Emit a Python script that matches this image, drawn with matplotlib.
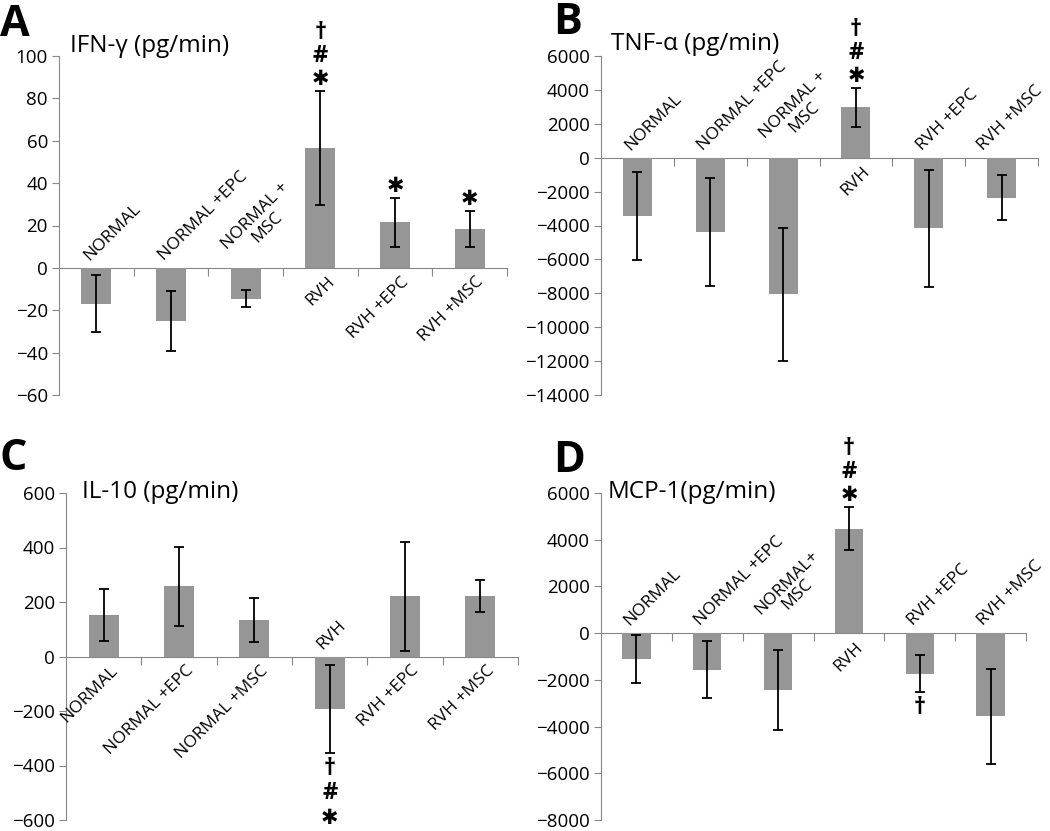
import matplotlib
matplotlib.use("Agg")
import matplotlib.pyplot as plt

plt.rcParams['font.family'] = ['Open Sans', 'DejaVu Sans']

# category labels per panel
labels_a = ['NORMAL', 'NORMAL +EPC', 'NORMAL +\nMSC', 'RVH', 'RVH +EPC', 'RVH +MSC']
labels_b = ['NORMAL', 'NORMAL +EPC', 'NORMAL +\nMSC', 'RVH', 'RVH +EPC', 'RVH +MSC']
labels_c = ['NORMAL', 'NORMAL +EPC', 'NORMAL +MSC', 'RVH', 'RVH +EPC', 'RVH +MSC']
labels_d = ['NORMAL', 'NORMAL +EPC', 'NORMAL+\nMSC', 'RVH', 'RVH +EPC', 'RVH +MSC']

# means and error (pg/min)
ifn = [-17, -25, -14.5, 56.5, 21.5, 18.5]
ifn_err = [13.5, 14, 4, 27, 11.5, 8.5]
tnf = [-3440, -4370, -8050, 2980, -4170, -2350]
tnf_err = [2600, 3200, 3930, 1150, 3470, 1330]
il10 = [153, 257, 134, -193, 221, 222]
il10_err = [96, 145, 80, 160, 200, 57]
mcp1 = [-1110, -1565, -2450, 4480, -1735, -3560]
mcp1_err = [1020, 1220, 1710, 920, 785, 2030]

# significance marks: (bar index, symbols top->bottom, side)
ifn_sig = [(3, '†#*', 'up'), (4, '*', 'up'), (5, '*', 'up')]
tnf_sig = [(3, '†#*', 'up')]
il10_sig = [(3, '†#*', 'down')]
mcp1_sig = [(3, '†#*', 'up'), (4, '†', 'down')]

W, H = 1050, 831
fig = plt.figure(figsize=(W / 100, H / 100), dpi=100)

GRAY = '#868686'
BAR = '#969696'
cat_labels = []


def add_axes(l, r, t, b):
    return fig.add_axes([l / W, 1 - b / H, (r - l) / W, (b - t) / H])


def draw_sym(ax, x, y, sym, dy):
    if sym == '*':
        ax.annotate('✱', xy=(x, y), xytext=(0, dy), textcoords='offset pixels',
                    ha='center', va='center', fontsize=15,
                    family='DejaVu Sans', color='black')
    else:
        ax.annotate(sym, xy=(x, y), xytext=(0, dy), textcoords='offset pixels',
                    ha='center', va='center', fontsize=17, fontweight='bold',
                    color='black')


def panel(ax, labels, vals, errs, sig, ylim, step):
    x = list(range(len(vals)))
    ax.bar(x, vals, width=0.4, color=BAR, zorder=2)
    ax.errorbar(x, vals, yerr=errs, fmt='none', ecolor='black', elinewidth=1.3,
                capsize=3.5, capthick=1.3, zorder=3)
    ax.set_xlim(-0.5, len(vals) - 0.5)
    ax.set_ylim(*ylim)
    ticks = list(range(ylim[0], ylim[1] + 1, step))
    ax.set_yticks(ticks)
    ax.tick_params(axis='y', labelsize=13.5, length=5, color=GRAY, pad=3)
    for s in ['top', 'right']:
        ax.spines[s].set_visible(False)
    ax.spines['left'].set_color(GRAY)
    ax.spines['bottom'].set_color(GRAY)
    ax.spines['bottom'].set_position(('data', 0))
    ax.spines['bottom'].set_zorder(1)
    ax.set_xticks([i + 0.5 for i in x])
    ax.tick_params(axis='x', length=6, color=GRAY, labelbottom=False, direction='out')
    for i, (lab, v) in enumerate(zip(labels, vals)):
        if v < 0:
            t = ax.annotate(lab, xy=(i, 0), xytext=(-7, 7), textcoords='offset pixels',
                            rotation=45, rotation_mode='anchor', ha='left', va='baseline',
                            multialignment='center', fontsize=12.5, linespacing=1.0)
        else:
            t = ax.annotate(lab, xy=(i, 0), xytext=(6, -6), textcoords='offset pixels',
                            rotation=45, rotation_mode='anchor', ha='right', va='top',
                            multialignment='center', fontsize=12.5)
        cat_labels.append(t)
    for i, syms, side in sig:
        if side == 'up':
            y = vals[i] + errs[i]
            for k, s in enumerate(reversed(syms)):
                draw_sym(ax, i, y, s, 12 + 23 * k)
        else:
            y = vals[i] - errs[i]
            for k, s in enumerate(syms):
                draw_sym(ax, i, y, s, -(16 + 24.5 * k))


def ftext(x, y, s, **kw):
    fig.text(x / W, 1 - y / H, s, va='baseline', ha='left', **kw)


ax_a = add_axes(59, 507, 56, 395)
panel(ax_a, labels_a, ifn, ifn_err, ifn_sig, (-60, 100), 20)
ax_b = add_axes(601, 1038, 56, 395)
panel(ax_b, labels_b, tnf, tnf_err, tnf_sig, (-14000, 6000), 2000)
ax_c = add_axes(66, 518, 493, 820)
panel(ax_c, labels_c, il10, il10_err, il10_sig, (-600, 600), 200)
ax_d = add_axes(601, 1026, 493, 820)
panel(ax_d, labels_d, mcp1, mcp1_err, mcp1_sig, (-8000, 6000), 2000)

ftext(70, 52, 'IFN-γ (pg/min)', fontsize=17.5)
ftext(611, 50, 'TNF-α (pg/min)', fontsize=17.5)
ftext(82, 498, 'IL-10 (pg/min)', fontsize=17.5)
ftext(608, 498, 'MCP-1(pg/min)', fontsize=17.5)

ftext(0, 36, 'A', fontsize=31, fontweight='bold')
ftext(553, 34, 'B', fontsize=31, fontweight='bold')
ftext(0, 470, 'C', fontsize=31, fontweight='bold')
ftext(553, 472, 'D', fontsize=31, fontweight='bold')

# pull any label that runs past the right edge back inside
fig.canvas.draw()
rend = fig.canvas.get_renderer()
for t in cat_labels:
    over = t.get_window_extent(rend).x1 - (W - 4)
    if over > 0:
        dx, dy = t.xyann
        t.xyann = (dx - over, dy)

fig.savefig('out.png', dpi=100)
